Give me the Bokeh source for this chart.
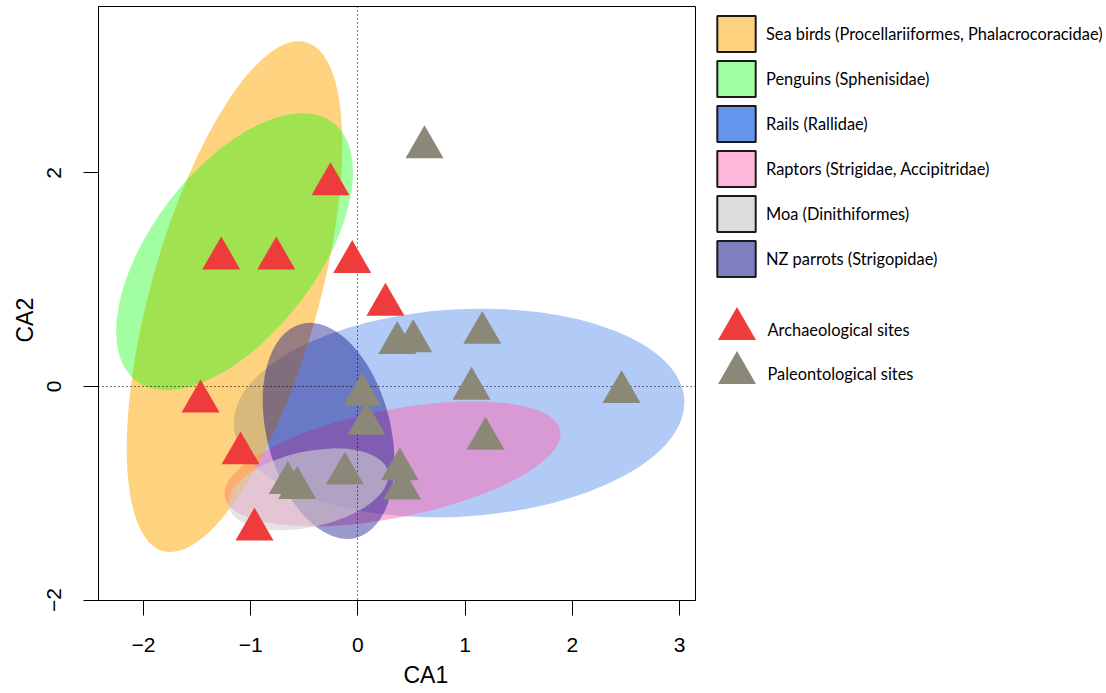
import math
from bokeh.plotting import figure
from bokeh.layouts import row
from bokeh.models import (Range1d, FixedTicker, Title, Legend, LegendItem,
                          ColumnDataSource)
from bokeh.core.properties import value
from bokeh.embed import file_html
from bokeh.resources import INLINE

# ---------------- data ----------------
groups = ["Sea birds (Procellariiformes, Phalacrocoracidae)",
          "Penguins (Sphenisidae)",
          "Rails (Rallidae)",
          "Raptors (Strigidae, Accipitridae)",
          "Moa (Dinithiformes)",
          "NZ parrots (Strigopidae)"]
legend_colors = ["#FFD27F", "#A0FFA0", "#6495ED", "#FFB6DB", "#DDDDDD", "#7F7FC0"]
fill_colors = ["#FFA500", "#00FF00", "#6495ED", "#FF69B4", "#D0D0D0", "#000080"]
fill_alphas = [0.5, 0.37, 0.5, 0.5, 0.6, 0.4]

# ellipse centres, full axes lengths and orientation (degrees)
ell_cx = [-1.151, -1.151, 0.943, 0.323, -0.461, -0.274]
ell_cy = [0.841, 1.262, -0.248, -0.724, -0.963, -0.416]
ell_w = [4.93, 3.03, 4.21, 3.19, 1.52, 2.06]
ell_h = [1.57, 1.548, 1.94, 1.01, 0.71, 1.158]
ell_angle = [74.3, 52.65, 3.4, 11.2, 12.4, 104.35]
draw_order = [2, 3, 0, 1, 5, 4]

arch_x = [-0.256, -1.275, -0.762, -0.053, 0.257, -1.468, -1.095, -0.965]
arch_y = [1.894, 1.199, 1.199, 1.165, 0.766, -0.140, -0.626, -1.339]

paleo_x = [0.621, 0.367, 0.516, 1.160, 1.060, 2.459, 1.190, 0.391, 0.413,
           0.040, 0.080, -0.122, -0.654, -0.566]
paleo_y = [2.240, 0.408, 0.423, 0.502, -0.021, -0.053, -0.489, -0.776, -0.956,
           -0.078, -0.349, -0.816, -0.904, -0.950]

x_ticks = [-2, -1, 0, 1, 2, 3]
y_ticks = [-2, 0, 2]
x_label = "CA1"
y_label = "CA2"
series_labels = ["Archaeological sites", "Paleontological sites"]
series_colors = ["#EE3B3B", "#8B8878"]

LEGEND_FONT = "Lato"
LEGEND_SIZE = "16.4px"


def fmt(v):
    return ("\u2212" + str(-v)) if v < 0 else str(v)


# ---------------- main figure ----------------
p = figure(width=698, height=693,
           x_range=Range1d(-2.420, 3.149), y_range=Range1d(-2.004, 3.558),
           output_backend="svg", toolbar_location=None,
           min_border_left=98, min_border_right=3,
           min_border_top=6, min_border_bottom=93)
p.grid.visible = False
p.outline_line_color = "black"
p.outline_line_width = 1
p.outline_line_alpha = 1
p.background_fill_color = "white"
p.border_fill_color = "white"

for ax, ticks in ((p.xaxis[0], x_ticks), (p.yaxis[0], y_ticks)):
    ax.ticker = FixedTicker(ticks=ticks)
    ax.major_label_overrides = {t: fmt(t) for t in ticks}
    ax.major_tick_out = 15
    ax.major_tick_in = 0
    ax.minor_tick_out = 0
    ax.minor_tick_in = 0
    ax.major_tick_line_color = "black"
    ax.axis_line_color = "black"
    ax.major_label_text_font = "Liberation Sans"
    ax.major_label_text_font_size = "21px"
    ax.major_label_text_color = "black"
p.xaxis.major_label_standoff = 22
p.yaxis.major_label_standoff = 22
p.yaxis.major_label_orientation = "vertical"

# ellipses
for i in draw_order:
    src = ColumnDataSource(dict(x=[ell_cx[i]], y=[ell_cy[i]], w=[ell_w[i]],
                                h=[ell_h[i]], a=[math.radians(ell_angle[i])]))
    p.ellipse(x="x", y="y", width="w", height="h", angle="a", source=src,
              fill_color=fill_colors[i], fill_alpha=fill_alphas[i], line_color=None)

# zero reference lines
p.hspan(y=[0], line_color="black", line_dash="1 3", line_width=1)
p.vspan(x=[0], line_color="black", line_dash="1 3", line_width=1)

# sites
p.scatter(arch_x, arch_y, marker="triangle", size=38,
          fill_color=series_colors[0], line_color=None)
p.scatter(paleo_x, paleo_y, marker="triangle", size=38,
          fill_color=series_colors[1], line_color=None)

# axis titles
p.add_layout(Title(text=x_label, align="left", offset=305, standoff=10,
                   text_font="Liberation Sans", text_font_size="23px",
                   text_font_style="normal", text_color="black"), "below")
p.add_layout(Title(text=y_label, align="left", offset=258, standoff=14,
                   text_font="Liberation Sans", text_font_size="23px",
                   text_font_style="normal", text_color="black"), "left")

# ---------------- legend panel (pixel-like coordinates) ----------------
LG_W, LG_H = 408, 594
lg = figure(width=LG_W, height=693, x_range=Range1d(0, LG_W), y_range=Range1d(0, LG_H),
            output_backend="svg", toolbar_location=None,
            x_axis_location=None, y_axis_location=None,
            min_border=0, min_border_left=0, min_border_right=0,
            min_border_top=6, min_border_bottom=93)
lg.outline_line_color = None
lg.grid.visible = False
lg.background_fill_color = "white"
lg.border_fill_color = "white"

# hidden renderers that only feed the legend swatches
box_renderers = []
for i in range(6):
    r = lg.rect(x=[ell_cx[i]], y=[ell_cy[i]], width=[ell_w[i]], height=[ell_h[i]],
                fill_color=legend_colors[i], line_color="#1a1a1a", line_width=2)
    r.visible = False
    box_renderers.append(r)

leg1 = Legend(items=[LegendItem(label=groups[i], renderers=[box_renderers[i]])
                     for i in range(6)],
              location=(14, 319), glyph_width=48, glyph_height=45, spacing=0,
              label_standoff=6, padding=0, margin=0, border_line_color=None,
              background_fill_alpha=0, label_text_font=LEGEND_FONT,
              label_text_font_size=LEGEND_SIZE, label_text_color="black")
lg.add_layout(leg1)

# point-type key
key_x = 38.5
key_text_x = 69
key_top = 271.5
key_step = 44
key_y = [key_top - k * key_step for k in range(len(series_labels))]
lg.scatter([key_x] * len(series_labels), key_y, marker="triangle", size=38,
           fill_color=series_colors, line_color=None)
lg.text([key_text_x] * len(series_labels), key_y, text=series_labels,
        text_align="left", text_baseline="middle", text_font=value(LEGEND_FONT),
        text_font_size=LEGEND_SIZE, text_color="black")

layout = row(p, lg)
open("out.html", "w").write(file_html(layout, INLINE))
